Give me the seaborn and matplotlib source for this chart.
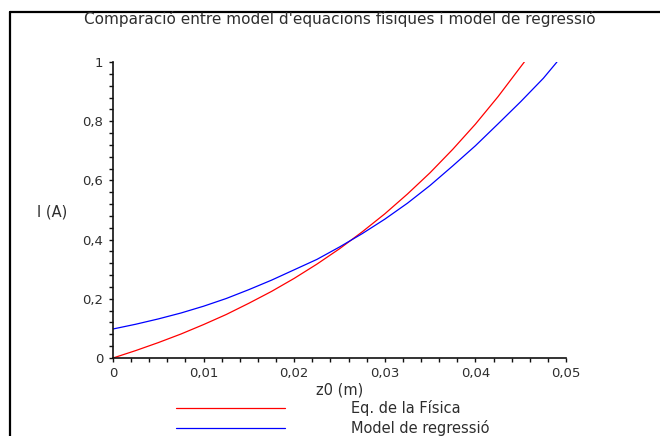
import matplotlib
matplotlib.use("Agg")
import matplotlib.pyplot as plt
from matplotlib.lines import Line2D
from matplotlib.ticker import MultipleLocator, FuncFormatter
import pandas as pd
import seaborn as sns

# Current I (A) as a function of z0 (m) for both models
z_fisica = [0, 0.0025, 0.005, 0.0075, 0.01, 0.0125, 0.015, 0.0175, 0.02, 0.0225,
            0.025, 0.0275, 0.03, 0.0325, 0.035, 0.0375, 0.04, 0.0425, 0.045, 0.0454]
i_fisica = [0, 0.025, 0.052, 0.081, 0.113, 0.147, 0.185, 0.225, 0.269, 0.317,
            0.369, 0.426, 0.487, 0.554, 0.626, 0.705, 0.790, 0.883, 0.984, 1.0]

z_regressio = [0, 0.0025, 0.005, 0.0075, 0.01, 0.0125, 0.015, 0.0175, 0.02, 0.0225,
               0.025, 0.0275, 0.03, 0.0325, 0.035, 0.0375, 0.04, 0.0425, 0.045, 0.0475, 0.049]
i_regressio = [0.098, 0.114, 0.132, 0.152, 0.175, 0.201, 0.231, 0.263, 0.298, 0.333,
               0.375, 0.420, 0.469, 0.523, 0.583, 0.649, 0.717, 0.791, 0.866, 0.945, 1.0]

nom_fisica = "Eq. de la Física"
nom_regressio = "Model de regressió"

x_ticks = [0, 0.01, 0.02, 0.03, 0.04, 0.05]
y_ticks = [0, 0.2, 0.4, 0.6, 0.8, 1]

df = pd.concat([
    pd.DataFrame({"z0": z_fisica, "I": i_fisica, "model": nom_fisica}),
    pd.DataFrame({"z0": z_regressio, "I": i_regressio, "model": nom_regressio}),
], ignore_index=True)

sns.set_style("ticks")
plt.rcParams["font.family"] = ["DejaVu Sans"]

TXT = "#2e2e2e"
W, H = 660, 436
fig = plt.figure(figsize=(W / 100, H / 100), dpi=100)
fig.patch.set_facecolor("white")

ax = fig.add_axes([113 / W, 78 / H, 453 / W, 296 / H])
sns.lineplot(data=df, x="z0", y="I", hue="model",
             palette={nom_fisica: "#ff0000", nom_regressio: "#0000ff"},
             estimator=None, sort=False, linewidth=0.9, legend=False, ax=ax)

ax.set_xlim(0, 0.05)
ax.set_ylim(0, 1)
ax.set_facecolor("white")
for s in ("top", "right"):
    ax.spines[s].set_visible(False)
for s in ("left", "bottom"):
    ax.spines[s].set_linewidth(1.2)
    ax.spines[s].set_color("#111111")


def coma(v, pos=None):
    txt = f"{round(v, 4):g}"
    return txt.replace(".", ",")


ax.set_xticks(x_ticks)
ax.set_yticks(y_ticks)
ax.xaxis.set_minor_locator(MultipleLocator(0.002))
ax.yaxis.set_minor_locator(MultipleLocator(0.04))
ax.xaxis.set_major_formatter(FuncFormatter(coma))
ax.yaxis.set_major_formatter(FuncFormatter(coma))
ax.tick_params(which="both", direction="out", length=3.2, width=1, color="#111111",
               labelsize=9.5, labelcolor=TXT)
ax.tick_params(axis="x", pad=3)
ax.tick_params(axis="y", pad=4)

ax.set_xlabel("z0 (m)", fontsize=10.5, color=TXT, labelpad=2)
ax.set_ylabel("")
fig.text(37 / W, 1 - 212 / H, "I (A)", fontsize=10.5, color=TXT,
         ha="left", va="center")

fig.text(339.5 / W, 1 - 19 / H,
         "Comparació entre model d'equacions físiques i model de regressió",
         fontsize=11, color=TXT, ha="center", va="center")

# Frame edges at the top and left of the figure
fig.add_artist(Line2D([10 / W, 1], [1 - 12 / H, 1 - 12 / H], color="black", lw=1.6,
                      transform=fig.transFigure))
fig.add_artist(Line2D([10 / W, 10 / W], [0, 1 - 12 / H], color="black", lw=1.6,
                      transform=fig.transFigure))

lines = ax.get_lines()
fig.legend(handles=lines[:2], labels=[nom_fisica, nom_regressio],
           loc="upper left", bbox_to_anchor=(176 / W, 1 - 400 / H),
           frameon=False, fontsize=10.5, handlelength=7.5, handletextpad=4.5,
           labelspacing=0.3, borderpad=0, borderaxespad=0,
           labelcolor=TXT)

fig.savefig("out.png", dpi=100, facecolor="white")
